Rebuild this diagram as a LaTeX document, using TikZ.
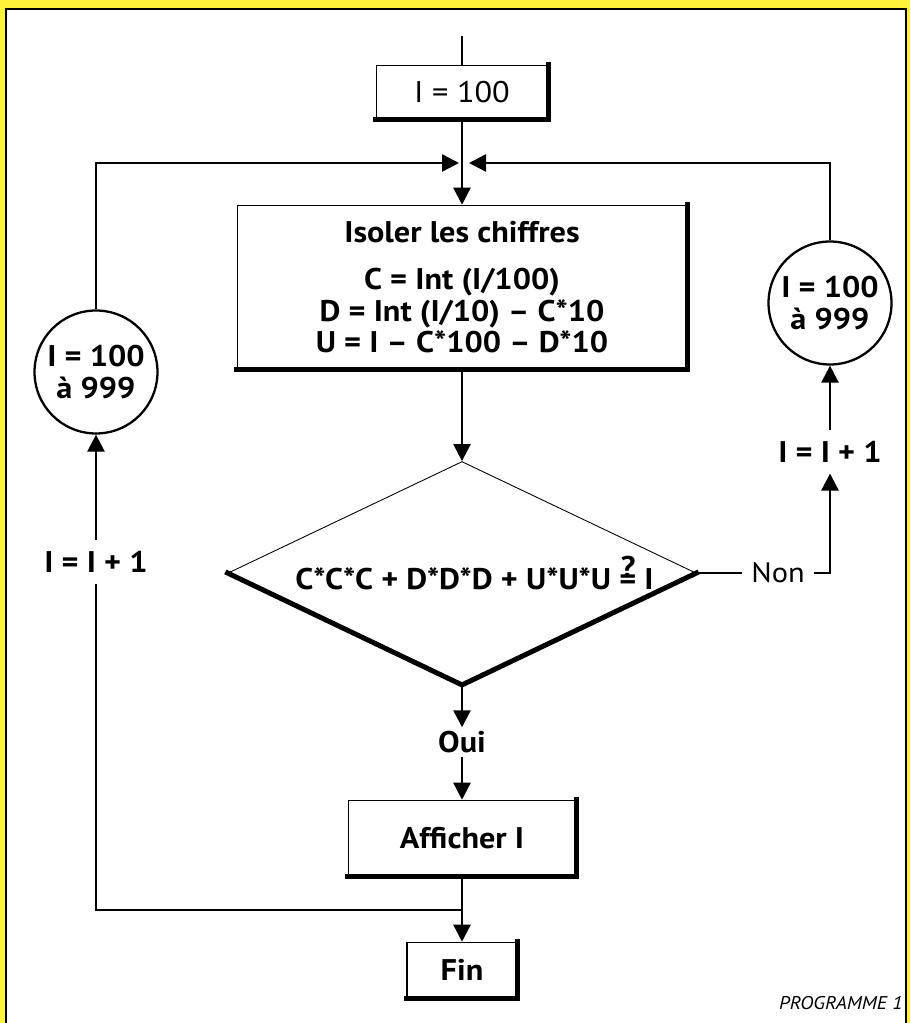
\documentclass[tikz,border=0pt]{standalone}
\usepackage{fontspec}
\setmainfont{PT Sans}[FakeStretch=1.08]
\usepackage{xcolor}
\usetikzlibrary{arrows.meta,positioning,shapes.geometric}
\definecolor{pageyellow}{RGB}{255,242,58}
\newcommand{\eqtest}{\makebox[0pt][l]{\raisebox{0.42em}{\hspace{0.05em}?}}=}

\begin{document}
\begin{tikzpicture}[
    x=0.02cm, y=-0.02cm,
    every node/.style={font=\bfseries\fontsize{17}{18}\selectfont},
    box/.style={
        draw,
        line width=0.9pt,
        fill=white,
        inner sep=0pt,
        align=center
    },
    loop/.style={
        draw,
        circle,
        line width=1.3pt,
        minimum size=2.46cm,
        inner sep=0pt,
        align=center
    },
    test/.style={
        draw,
        diamond,
        aspect=2.1,
        line width=0.5pt,
        inner sep=0pt,
        minimum width=9.36cm,
        minimum height=4.46cm
    },
    tag/.style={inner xsep=2pt, inner ysep=6pt},
    rim/.style={line width=0.1cm, line cap=rect},
    wire/.style={line width=1.4pt},
    arrow/.style={-{Triangle[length=3.4mm, width=3.4mm]}, line width=1.4pt}
]
\useasboundingbox (0,0) rectangle (910,1023);
\fill[pageyellow] (0,0) rectangle (910,1023);
\filldraw[fill=white, line width=0.6pt] (6,1030) -- (6,9) -- (906,9) -- (906,1030);

\coordinate (start) at (462,36);
\node[box, minimum width=3.42cm, minimum height=1.06cm, font=\mdseries\fontsize{17}{18}\selectfont] (init) at (462,92) {I = 100};
\coordinate (joinL) at (459,163);
\coordinate (joinR) at (469,163);
\node[box, minimum width=8.98cm, minimum height=3.26cm] (isol) at (462,287)
    {Isoler les chiffres\\[9pt] C = Int (I/100)\\ D = Int (I/10) -- C*10\\ U = I -- C*100 -- D*10};
\node[test] (dec) at (462,573) {\hspace{0.5cm}C*C*C + D*D*D + U*U*U \eqtest{} I};
\node[inner sep=2pt] (oui) at (462,742) {Oui};
\node[box, minimum width=4.54cm, minimum height=1.5cm] (show) at (462,838) {Afficher I};
\coordinate (join) at (462,910);
\node[box, minimum width=2.2cm, minimum height=1.1cm] (fin) at (462,970) {Fin};

\node[loop] (lcirc) at (96,372) {I = 100\\à 999};
\node[tag] (linc) at (96,562) {I = I + 1};
\node[loop] (rcirc) at (830,303) {I = 100\\à 999};
\node[tag] (rinc) at (830,452) {I = I + 1};
\node[font=\mdseries\fontsize{16}{18}\selectfont, inner xsep=5pt] (non) at (778,573) {Non};

\node[font=\itshape\fontsize{10.5}{13}\selectfont] (prog) at (841,1003) {PROGRAMME 1};

% shadows
\draw[rim] (init.north east) -- (init.south east) -- (init.south west);
\draw[rim] (isol.north east) -- (isol.south east) -- (isol.south west);
\draw[rim] (show.north east) -- (show.south east) -- (show.south west);
\draw[rim] (fin.north east) -- (fin.south east) -- (fin.south west);
\draw[rim] (dec.west) -- (dec.south) -- (dec.east);

\draw[wire] (start) -- (init.north);
\draw[arrow] (init.south) -- (isol.north);
\draw[arrow] (lcirc.north) |- (joinL);
\draw[arrow] (rcirc.north) |- (joinR);
\draw[arrow] (isol.south) -- (dec.north);
\draw[arrow] (dec.south) -- (oui.north);
\draw[arrow] (oui.south) -- (show.north);
\draw[arrow] (show.south) -- (fin.north);
\draw[wire] (join) -| (linc.south);
\draw[arrow] (linc.north) -- (lcirc.south);
\draw[wire] (dec.east) -- (non.west);
\draw[arrow] (non.east) -| (rinc.south);
\draw[arrow] (rinc.north) -- (rcirc.south);
\end{tikzpicture}
\end{document}
